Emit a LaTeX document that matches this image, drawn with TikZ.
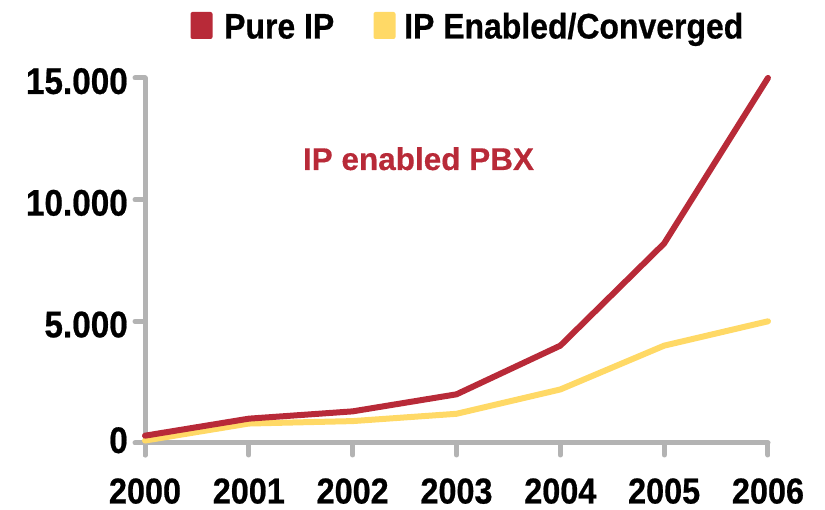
\documentclass[tikz,border=0pt]{standalone}
\usepackage{fontspec}
\setmainfont{Liberation Sans}[FakeStretch=0.9, BoldFeatures={FakeBold=0.6}]
\newfontfamily\wideface{Liberation Sans}[BoldFeatures={FakeBold=0.4}]
\definecolor{pureip}{HTML}{B82A38}
\definecolor{converged}{HTML}{FFD966}
\definecolor{axisgray}{HTML}{B3B3B3}
\tikzset{
  axisline/.style={draw=axisgray, line width=5pt, line cap=round},
  series/.style={line width=6pt, line cap=round, line join=round},
  ylab/.style={anchor=base east, inner sep=0pt, font=\bfseries\fontsize{37}{40}\selectfont},
  xlab/.style={anchor=base, inner sep=0pt, font=\bfseries\fontsize{36}{40}\selectfont},
  legtext/.style={anchor=base west, inner sep=0pt, font=\bfseries\fontsize{35.5}{40}\selectfont},
  legkey/.style={rounded corners=2pt, minimum width=22pt, minimum height=27pt, inner sep=0pt},
}
\begin{document}
\begin{tikzpicture}[x=1pt, y=-1pt]
\useasboundingbox (0,0) rectangle (825,510);

% axes
\coordinate (ytop) at (145,78);
\coordinate (ybot) at (145,455);
\coordinate (xleft) at (145,443);
\coordinate (xright) at (768,443);
\draw[axisline] (ytop) -- (ybot);
\draw[axisline] (xleft) -- (xright);

% y ticks and labels (the zero label sits a little higher)
\foreach \v/\t/\dy in {0/0/10, 5000/5.000/16, 10000/10.000/16, 15000/15.000/16}{
  \pgfmathsetmacro{\yy}{443-\v*0.02434}
  \coordinate (yt\v) at (145,\yy);
  \draw[axisline] (yt\v) -- ++(-10,0);
  \node[ylab] (yl\v) at (128,\yy+\dy) {\t};
}

% x ticks and labels
\foreach \i/\yr in {0/2000,1/2001,2/2002,3/2003,4/2004,5/2005,6/2006}{
  \pgfmathsetmacro{\xx}{145+\i*103.83}
  \coordinate (xt\yr) at (\xx,443);
  \draw[axisline] (xt\yr) -- ++(0,12);
  \node[xlab] (xl\yr) at (\xx,503.5) {\yr};
}

% data points
\foreach \i/\v in {0/300,1/1000,2/1300,3/2000,4/4000,5/8200,6/15000}{
  \coordinate (p\i) at ({145+\i*103.83},{443-\v*0.02434});
}
\foreach \i/\v in {0/100,1/800,2/900,3/1200,4/2200,5/4000,6/5000}{
  \coordinate (c\i) at ({145+\i*103.83},{443-\v*0.02434});
}

\draw[series, converged] (c0) -- (c1) -- (c2) -- (c3) -- (c4) -- (c5) -- (c6);
\draw[series, pureip] (p0) -- (p1) -- (p2) -- (p3) -- (p4) -- (p5) -- (p6);

% annotation
\node[anchor=base, inner sep=0pt, text=pureip, font=\wideface\bfseries\fontsize{31.5}{36}\selectfont] (note) at (418.5,170) {IP enabled PBX};

% legend
\node[legkey, fill=pureip] (kpure) at (201.5,25.5) {};
\node[legtext] (tpure) at (224,38.5) {Pure IP};
\node[legkey, fill=converged] (kconv) at (384.5,25.5) {};
\node[legtext] (tconv) at (404,38.5) {IP Enabled/Converged};
\end{tikzpicture}
\end{document}
